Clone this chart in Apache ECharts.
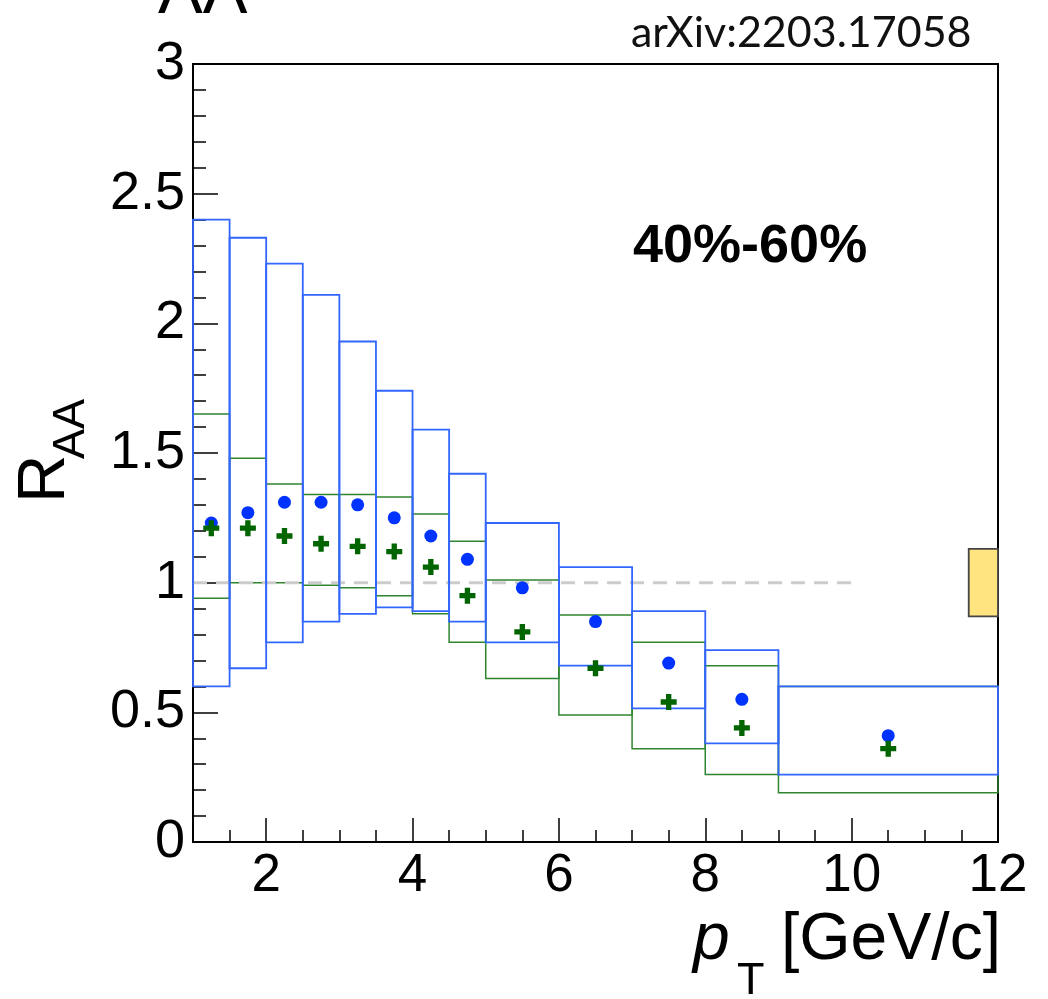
<!DOCTYPE html>
<html>
<head>
<meta charset="utf-8">
<script src="https://cdn.jsdelivr.net/npm/echarts@6/dist/echarts.min.js"></script>
<style>html,body{margin:0;padding:0;background:#fff;}#c{width:1048px;height:999px;}</style>
</head>
<body>
<div id="c"></div>
<script>
// ---- data ----
const binLo = [1, 1.5, 2, 2.5, 3, 3.5, 4, 4.5, 5, 6, 7, 8, 9];
const binHi = [1.5, 2, 2.5, 3, 3.5, 4, 4.5, 5, 6, 7, 8, 9, 12];
const ptX = [1.25, 1.75, 2.25, 2.75, 3.25, 3.75, 4.25, 4.75, 5.5, 6.5, 7.5, 8.5, 10.5];
const blueVal = [1.23, 1.27, 1.31, 1.31, 1.30, 1.25, 1.18, 1.09, 0.98, 0.85, 0.69, 0.55, 0.41];
const greenVal = [1.21, 1.21, 1.18, 1.15, 1.14, 1.12, 1.06, 0.95, 0.81, 0.67, 0.54, 0.44, 0.36];
const blueSysHi = [2.40, 2.33, 2.23, 2.11, 1.93, 1.74, 1.59, 1.42, 1.23, 1.06, 0.89, 0.74, 0.60];
const blueSysLo = [0.60, 0.67, 0.77, 0.85, 0.88, 0.905, 0.89, 0.85, 0.77, 0.68, 0.515, 0.38, 0.26];
const greenSysHi = [1.65, 1.48, 1.38, 1.34, 1.34, 1.33, 1.265, 1.16, 1.01, 0.875, 0.77, 0.68, 0.60];
const greenSysLo = [0.94, 1.00, 1.00, 0.99, 0.98, 0.95, 0.88, 0.77, 0.63, 0.49, 0.36, 0.26, 0.19];
const globalBox = [[11.6, 12, 0.87, 1.13]];
const refLine = [[1, 1], [10, 1]];
const xMajorTicks = [2, 4, 6, 8, 10, 12];
const yTicks = [0, 0.5, 1, 1.5, 2, 2.5, 3];

const blueBoxes = binLo.map((lo, i) => [lo, binHi[i], blueSysLo[i], blueSysHi[i]]);
const greenBoxes = binLo.map((lo, i) => [lo, binHi[i], greenSysLo[i], greenSysHi[i]]);
const bluePts = ptX.map((x, i) => [x, blueVal[i]]);
const greenPts = ptX.map((x, i) => [x, greenVal[i]]);

function boxRenderer(stroke, fill, lw) {
  return function (params, api) {
    const p1 = api.coord([api.value(0), api.value(3)]);
    const p2 = api.coord([api.value(1), api.value(2)]);
    return {
      type: 'rect',
      shape: { x: p1[0], y: p1[1], width: p2[0] - p1[0], height: p2[1] - p1[1] },
      style: { fill: fill, stroke: stroke, lineWidth: lw }
    };
  };
}

const FONT = '"Liberation Sans", Arial, sans-serif';
const chart = echarts.init(document.getElementById('c'), null, { renderer: 'canvas' });
const crossPath = 'path://M6,0H12V6H18V12H12V18H6V12H0V6H6Z';

chart.setOption({
  animation: false,
  backgroundColor: '#fff',
  grid: { left: 193, right: 50, top: 64, bottom: 157, show: true, borderColor: '#000', borderWidth: 2, backgroundColor: 'transparent' },
  xAxis: [
    {
      type: 'value', min: 1, max: 12, interval: 0.5, position: 'bottom',
      axisLine: { show: true, lineStyle: { color: '#000', width: 2 } },
      axisTick: { show: true, inside: true, length: 12, lineStyle: { color: '#000', width: 1.5 } },
      axisLabel: {
        show: true, interval: 0, margin: 8, fontSize: 53, fontFamily: FONT, color: '#000',
        formatter: v => (xMajorTicks.indexOf(v) >= 0 ? String(v) : '')
      },
      splitLine: { show: false }
    },
    {
      type: 'value', min: 1, max: 12, position: 'bottom', offset: 0,
      axisLine: { show: false },
      axisTick: { show: true, inside: true, length: 24, customValues: xMajorTicks, lineStyle: { color: '#000', width: 1.5 } },
      axisLabel: { show: false },
      splitLine: { show: false }
    }
  ],
  yAxis: {
    type: 'value', min: 0, max: 3, interval: 0.5,
    axisLine: { show: true, lineStyle: { color: '#000', width: 2 } },
    axisTick: { show: true, inside: true, length: 25, lineStyle: { color: '#000', width: 1.5 } },
    minorTick: { show: true, splitNumber: 5, length: 13, lineStyle: { color: '#000', width: 1.5 } },
    axisLabel: { margin: 8, fontSize: 54, fontFamily: FONT, color: '#000', formatter: v => String(v) },
    splitLine: { show: false }
  },
  series: [
    { type: 'custom', name: 'green sys', xAxisIndex: 0, data: greenBoxes, renderItem: boxRenderer('#2f852f', 'none', 1.5), z: 2, clip: false },
    { type: 'line', name: 'unity', xAxisIndex: 0, data: refLine, symbol: 'none', lineStyle: { color: '#cccccc', width: 3, type: [14, 9] }, z: 3 },
    { type: 'custom', name: 'blue sys', xAxisIndex: 0, data: blueBoxes, renderItem: boxRenderer('#3366ff', 'none', 1.8), z: 4, clip: false },
    { type: 'custom', name: 'global', xAxisIndex: 0, data: globalBox, renderItem: boxRenderer('#444', '#ffe480', 1.8), z: 4, clip: false },
    { type: 'scatter', name: 'blue', xAxisIndex: 0, data: bluePts, symbol: 'circle', symbolSize: 13, itemStyle: { color: '#0033ff', opacity: 1 }, z: 6 },
    { type: 'scatter', name: 'green', xAxisIndex: 0, data: greenPts, symbol: crossPath, symbolSize: 16, itemStyle: { color: '#006400', opacity: 1 }, z: 6 }
  ],
  graphic: [
    { type: 'text', x: 158, y: -5, style: { text: 'AA', font: '67px ' + FONT, fill: '#000', verticalAlign: 'middle', align: 'left' } },
    { type: 'text', x: 631, y: 33, style: { text: 'arXiv:2203.17058', font: '43px Lato, "Open Sans", sans-serif', fill: '#111', verticalAlign: 'middle', align: 'left' } },
    { type: 'text', x: 633, y: 247, style: { text: '40%-60%', font: 'bold 54px ' + FONT, fill: '#000', verticalAlign: 'middle', align: 'left' } },
    { type: 'text', x: 46, y: 503, rotation: Math.PI / 2, style: { text: 'R', font: '67px ' + FONT, fill: '#000', verticalAlign: 'middle', align: 'left' } },
    { type: 'text', x: 72, y: 459, rotation: Math.PI / 2, style: { text: 'AA', font: '45px ' + FONT, fill: '#000', verticalAlign: 'middle', align: 'left' } },
    { type: 'text', x: 693, y: 941, style: { text: 'p', font: 'italic 66px ' + FONT, fill: '#000', verticalAlign: 'middle', align: 'left' } },
    { type: 'text', x: 737, y: 982, style: { text: 'T', font: '45px ' + FONT, fill: '#000', verticalAlign: 'middle', align: 'left' } },
    { type: 'text', x: 1001, y: 941, style: { text: '[GeV/c]', font: '66px ' + FONT, fill: '#000', verticalAlign: 'middle', align: 'right' } }
  ]
});
</script>
</body>
</html>
